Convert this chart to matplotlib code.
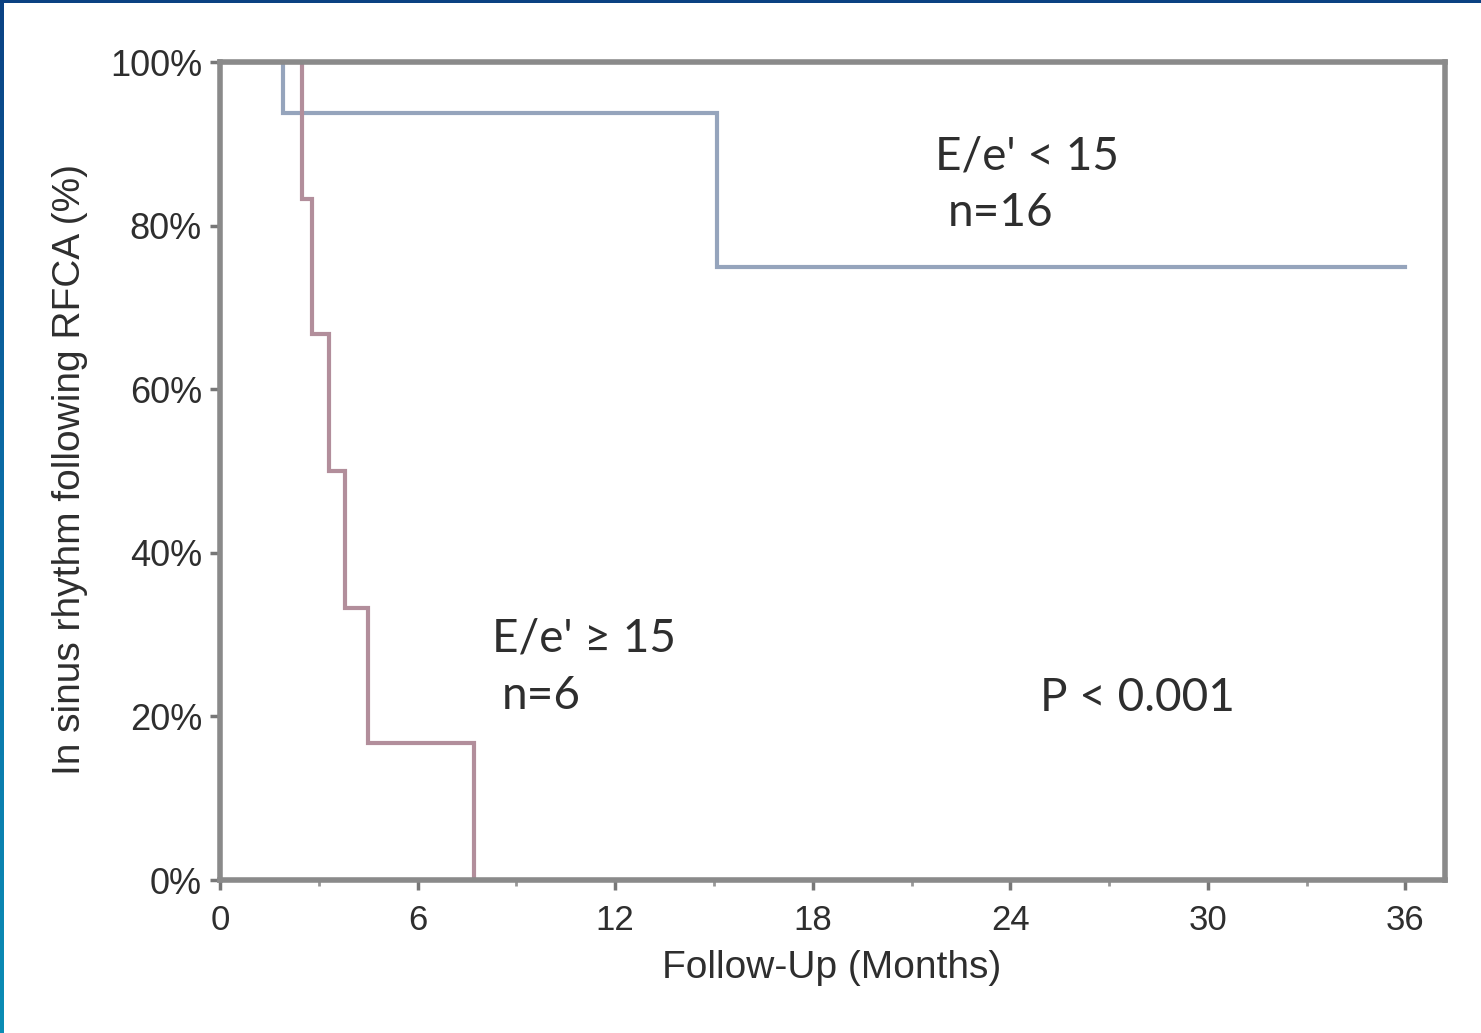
import numpy as np
import matplotlib
matplotlib.use("Agg")
import matplotlib.pyplot as plt
from matplotlib.colors import LinearSegmentedColormap
from matplotlib.ticker import MultipleLocator, FuncFormatter

# ---- data ----
low_times = [0, 1.9, 15.1, 36]
low_surv = [100, 93.75, 75, 75]
high_times = [0, 2.5, 2.8, 3.3, 3.8, 4.5, 7.7]
high_surv = [100, 83.3, 66.7, 50, 33.3, 16.7, 0]
x_ticks = [0, 6, 12, 18, 24, 30, 36]
y_ticks = [0, 20, 40, 60, 80, 100]

W, H = 1481, 1033
fig = plt.figure(figsize=(W / 100, H / 100), dpi=100)
fig.patch.set_facecolor("white")

ax = fig.add_axes([220 / W, 1 - 880 / H, (1445 - 220) / W, (880 - 62) / H])
ax.set_xlim(0, 37.2)
ax.set_ylim(0, 100)

ax.step(low_times, low_surv, where="post", color="#95a4bc", lw=3.0, solid_joinstyle="miter")
ax.step(high_times, high_surv, where="post", color="#b28e9b", lw=3.0, solid_joinstyle="miter")

for s in ax.spines.values():
    s.set_color("#8a8a8a")
    s.set_linewidth(4)

ax.set_xticks(x_ticks)
ax.xaxis.set_minor_locator(MultipleLocator(3))
ax.set_yticks(y_ticks)
ax.yaxis.set_major_formatter(FuncFormatter(lambda v, p: f"{int(v)}%"))
ax.tick_params(axis="both", which="major", direction="out", length=7, width=2.5,
               color="#777777", labelcolor="#2e2e2e", pad=6)
ax.tick_params(axis="y", which="major", labelsize=26)
ax.tick_params(axis="x", which="major", labelsize=25, pad=10)
ax.tick_params(axis="x", which="minor", direction="out", length=4, width=2, color="#999999")
for lab in ax.get_xticklabels() + ax.get_yticklabels():
    lab.set_fontfamily("Liberation Sans")

fig.text(832 / W, 1 - 968 / H, "Follow-Up (Months)", ha="center", va="center",
         fontsize=28, color="#2e2e2e", family="Liberation Sans")
fig.text(70 / W, 1 - 470 / H, "In sinus rhythm following RFCA (%)", ha="center", va="center",
         rotation=90, fontsize=28, color="#2e2e2e", family="Liberation Sans")

tkw = dict(fontsize=33, color="#2e2e2e", family="Lato", ha="left", va="center")
ax.text(21.7, 88.5, "E/e' < 15", transform=ax.transData, **tkw)
ax.text(22.1, 81.5, "n=16", transform=ax.transData, **tkw)
ax.text(8.25, 29.5, "E/e' \u2265 15", transform=ax.transData, **tkw)
ax.text(8.55, 22.5, "n=6", transform=ax.transData, **tkw)
ax.text(24.9, 22.3, "P < 0.001", transform=ax.transData, **tkw)

# blue frame strips
cmap = LinearSegmentedColormap.from_list("edge", ["#0b4284", "#0a6fa8", "#0a8db5"])
lax = fig.add_axes([0, 0, 4 / W, 1])
lax.imshow(np.linspace(0, 1, 256).reshape(-1, 1), aspect="auto", cmap=cmap)
lax.axis("off")
tax = fig.add_axes([0, 1 - 3 / H, 1, 3 / H])
tax.set_facecolor("#0b4182")
tax.set_xticks([]); tax.set_yticks([])
for s in tax.spines.values():
    s.set_visible(False)

fig.savefig("out.png", dpi=100, facecolor="white")
